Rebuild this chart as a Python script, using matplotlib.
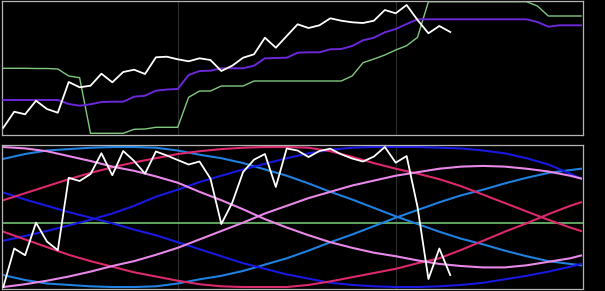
import numpy as np
import matplotlib
matplotlib.use("Agg")
import matplotlib.pyplot as plt

# ---------------- data ----------------
# bar index of price series (top) and oscillator (bottom)
bars = list(range(42))
proj_bars = list(range(54))
wave_bars = list(range(0, 53, 2)) + [53]
grid_bars = [16, 36]

price = [7.3, 23.3, 20.7, 34.3, 26, 22.3, 53, 47.7, 49.3, 61.3, 52.7, 63, 65.3, 61,
         77.7, 78.3, 75.7, 73.7, 76.7, 75, 64, 69.3, 77.3, 80.7, 97.3, 87.3, 99, 110.7,
         107, 109.7, 116.7, 114.3, 112.7, 112, 114.3, 125, 121.7, 130, 115, 101.7, 109, 103]

green_band = [66.7, 66.7, 66.7, 66.5, 66.5, 66, 59, 57.3, 1.7, 1.7, 1.7, 1.7, 5.7, 6,
              7.7, 7.7, 7.7, 37.7, 44, 44, 49, 49, 49, 54, 54, 54, 54, 54, 54, 54, 54, 54,
              59, 72.3, 76, 80, 85, 89.3, 97.7, 133.3, 133.3, 133.3, 133.3, 133.3, 133.3,
              133.3, 133.3, 133.3, 133.3, 129, 119, 119, 119, 119]

purple_band = [35, 35, 35, 35, 35, 35, 31, 29.3, 30.7, 33, 33.3, 33.3, 38.3, 39.3, 44.3,
               45.5, 46, 60, 64, 64.3, 66.7, 66.7, 66.7, 69.3, 76.7, 77, 77.3, 82.3, 82.7,
               82.7, 85.7, 86, 89, 94.7, 97.3, 102.7, 106, 111, 115.7, 115.7, 115.7, 115.7,
               115.7, 115.7, 115.7, 115.7, 115.7, 115.7, 115.7, 113, 108.3, 109.7, 109.7, 109.7]

osc = [-1.0, -0.45, -0.546, -0.081, -0.35, -0.474, 0.561, 0.514, 0.614, 0.911, 0.597,
       0.943, 0.8, 0.619, 0.936, 0.879, 0.814, 0.75, 0.793, 0.55, -0.1, 0.204, 0.643,
       0.819, 0.9, 0.429, 0.979, 0.95, 0.857, 0.943, 0.976, 0.896, 0.836, 0.793, 0.864,
       1.0, 0.776, 0.871, 0.143, -0.886, -0.45, -0.829]

zero_level = -0.08

lblue_a = [0.83, 0.90, 0.95, 0.97, 0.99, 1.0, 1.0, 0.99, 0.95, 0.89, 0.84, 0.77, 0.68,
           0.59, 0.48, 0.36, 0.25, 0.13, 0.01, -0.10, -0.21, -0.31, -0.39, -0.48, -0.56,
           -0.63, -0.67, -0.69]
lblue_b = [-0.83, -0.90, -0.95, -0.97, -0.99, -1.0, -1.0, -0.99, -0.95, -0.89, -0.84,
           -0.77, -0.68, -0.59, -0.48, -0.36, -0.25, -0.13, -0.01, 0.10, 0.21, 0.31, 0.39,
           0.48, 0.56, 0.63, 0.67, 0.69]
dblue_a = [0.35, 0.25, 0.16, 0.07, -0.01, -0.09, -0.18, -0.26, -0.36, -0.46, -0.56, -0.66,
           -0.74, -0.82, -0.88, -0.94, -0.97, -0.99, -1.0, -1.0, -0.99, -0.97, -0.94, -0.89,
           -0.84, -0.78, -0.71, -0.67]
dblue_b = [-0.34, -0.27, -0.20, -0.12, -0.04, 0.05, 0.16, 0.29, 0.39, 0.50, 0.59, 0.68,
           0.76, 0.84, 0.91, 0.96, 0.99, 1.0, 1.0, 1.0, 0.99, 0.98, 0.95, 0.91, 0.84, 0.75,
           0.62, 0.55]
crim_a = [0.24, 0.34, 0.44, 0.54, 0.63, 0.71, 0.78, 0.84, 0.90, 0.94, 0.97, 0.99, 1.0,
          1.0, 0.99, 0.94, 0.86, 0.77, 0.69, 0.62, 0.54, 0.44, 0.32, 0.20, 0.08, -0.04,
          -0.15, -0.20]
crim_b = [-0.21, -0.32, -0.43, -0.54, -0.63, -0.71, -0.79, -0.85, -0.91, -0.96, -0.99,
          -1.0, -1.0, -1.0, -0.97, -0.92, -0.86, -0.80, -0.74, -0.66, -0.59, -0.47, -0.34,
          -0.21, -0.09, 0.04, 0.16, 0.21]
viol_a = [1.0, 0.98, 0.94, 0.87, 0.80, 0.72, 0.66, 0.58, 0.49, 0.36, 0.24, 0.11, -0.03,
          -0.15, -0.26, -0.36, -0.44, -0.51, -0.56, -0.62, -0.67, -0.70, -0.72, -0.72,
          -0.69, -0.64, -0.59, -0.55]
viol_b = [-1.0, -0.96, -0.91, -0.85, -0.78, -0.70, -0.63, -0.54, -0.44, -0.32, -0.20,
          -0.08, 0.05, 0.16, 0.27, 0.36, 0.45, 0.52, 0.59, 0.64, 0.69, 0.72, 0.73, 0.72,
          0.69, 0.65, 0.59, 0.55]

# ---------------- style ----------------
BG = "#000000"
FRAME = "#b4b4b4"
GRID = "#2c2c2c"
C_WHITE = "#ffffff"
C_GREEN = "#80c880"
C_PURPLE = "#6a28d8"
C_LBLUE = "#2080e0"
C_DBLUE = "#1818e0"
C_CRIM = "#dc286c"
C_VIOL = "#e888e8"
C_ZERO = "#70c070"

W, H = 605, 291
fig = plt.figure(figsize=(W / 100, H / 100), dpi=100, facecolor=BG)

def px_axes(x0, y0, x1, y1):
    return fig.add_axes([x0 / W, 1 - y1 / H, (x1 - x0) / W, (y1 - y0) / H])

ax1 = px_axes(2, 1, 583, 135)
ax2 = px_axes(2, 144.7, 583, 288.7)

for ax in (ax1, ax2):
    ax.set_facecolor(BG)
    for s in ax.spines.values():
        s.set_color(FRAME)
        s.set_linewidth(0.9)
    ax.set_xticks([])
    ax.set_yticks([])
    ax.set_xlim(-0.12, 53.18)
    for g in grid_bars:
        ax.axvline(g, color=GRID, lw=0.8, zorder=0)

# top panel
ax1.set_ylim(0, 134)
ax1.plot(proj_bars, green_band, color=C_GREEN, lw=1.0, zorder=2)
ax1.plot(proj_bars, purple_band, color=C_PURPLE, lw=1.4, zorder=3)
ax1.plot(bars, price, color=C_WHITE, lw=1.3, zorder=4)

# bottom panel
ax2.set_ylim(-1.024, 1.033)
ax2.axhline(zero_level, color=C_ZERO, lw=1.2, zorder=1)
lw_w = 1.5
ax2.plot(wave_bars, lblue_a, color=C_LBLUE, lw=lw_w, zorder=2)
ax2.plot(wave_bars, lblue_b, color=C_LBLUE, lw=lw_w, zorder=2)
ax2.plot(wave_bars, dblue_a, color=C_DBLUE, lw=lw_w, zorder=2)
ax2.plot(wave_bars, dblue_b, color=C_DBLUE, lw=lw_w, zorder=2)
ax2.plot(wave_bars, crim_a, color=C_CRIM, lw=lw_w, zorder=2)
ax2.plot(wave_bars, crim_b, color=C_CRIM, lw=lw_w, zorder=2)
ax2.plot(wave_bars, viol_a, color=C_VIOL, lw=lw_w, zorder=2)
ax2.plot(wave_bars, viol_b, color=C_VIOL, lw=lw_w, zorder=2)
ax2.plot(bars, osc, color=C_WHITE, lw=1.3, zorder=4)

fig.savefig("out.png", dpi=100, facecolor=BG)
